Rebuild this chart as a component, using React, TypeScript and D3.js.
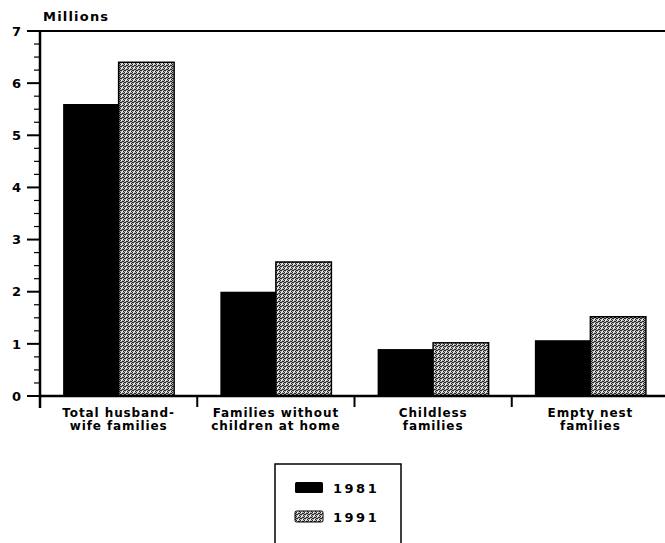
import React, { useEffect, useRef } from 'react';
import * as d3 from 'd3';

const categories = [
  ['Total husband-', 'wife families'],
  ['Families without', 'children at home'],
  ['Childless', 'families'],
  ['Empty nest', 'families'],
];
const seriesNames = ['1981', '1991'];
const values1981 = [5.6, 2.0, 0.9, 1.07];
const values1991 = [6.4, 2.57, 1.02, 1.52];
const yTicks = [0, 1, 2, 3, 4, 5, 6, 7];

const App: React.FC = () => {
  const svgRef = useRef<SVGSVGElement | null>(null);

  useEffect(() => {
    if (!svgRef.current) return;
    document.body.style.margin = '0';

    const width = 665;
    const height = 543;
    const left = 40;
    const top = 31;
    const bottom = 396;
    const font = '"DejaVu Sans", Arial, sans-serif';

    const svg = d3.select(svgRef.current);
    svg.selectAll('*').remove();
    svg.attr('width', width).attr('height', height);

    // stipple texture for 1991
    const defs = svg.append('defs');
    const pat = defs.append('pattern')
      .attr('id', 'stipple')
      .attr('patternUnits', 'userSpaceOnUse')
      .attr('width', 4).attr('height', 4);
    pat.append('rect').attr('width', 4).attr('height', 4).attr('fill', '#b4b4b4');
    [[0, 0], [2, 1], [1, 2], [3, 3], [3, 1], [0, 2]].forEach(([px, py]) => {
      pat.append('rect').attr('x', px).attr('y', py).attr('width', 1).attr('height', 1).attr('fill', '#222');
    });
    [[1, 0], [2, 3]].forEach(([px, py]) => {
      pat.append('rect').attr('x', px).attr('y', py).attr('width', 1).attr('height', 1).attr('fill', '#fff');
    });

    const keys = categories.map((c) => c.join(' '));
    const x0 = d3.scaleBand<string>().domain(keys).range([left, 669]).padding(0);
    const bw = x0.bandwidth();
    const x1 = d3.scaleBand<string>().domain(seriesNames).range([bw * 0.147, bw * 0.853]).padding(0);
    const y = d3.scaleLinear().domain([0, 7]).range([bottom, top]);

    const g = svg.append('g');

    // bars
    const data = keys.map((k, i) => ({ key: k, vals: [values1981[i], values1991[i]] }));
    data.forEach((d) => {
      d.vals.forEach((v, j) => {
        g.append('rect')
          .attr('x', (x0(d.key) ?? 0) + (x1(seriesNames[j]) ?? 0))
          .attr('y', y(v))
          .attr('width', x1.bandwidth())
          .attr('height', y(0) - y(v))
          .attr('fill', j === 0 ? '#000' : 'url(#stipple)')
          .attr('stroke', '#000')
          .attr('stroke-width', j === 0 ? 0 : 1.5);
      });
    });

    // top frame line
    g.append('line')
      .attr('x1', left).attr('x2', width)
      .attr('y1', top).attr('y2', top)
      .attr('stroke', '#000').attr('stroke-width', 2);

    // y axis
    g.append('line')
      .attr('x1', left).attr('x2', left)
      .attr('y1', top).attr('y2', bottom + 12)
      .attr('stroke', '#000').attr('stroke-width', 2.5);

    const minor = d3.range(0, 7, 0.25).filter((t) => t % 1 !== 0);
    minor.forEach((t) => {
      g.append('line')
        .attr('x1', left - 6).attr('x2', left)
        .attr('y1', y(t)).attr('y2', y(t))
        .attr('stroke', '#000').attr('stroke-width', 1.2);
    });
    yTicks.forEach((t) => {
      g.append('line')
        .attr('x1', left - 13).attr('x2', left)
        .attr('y1', y(t)).attr('y2', y(t))
        .attr('stroke', '#000').attr('stroke-width', 2);
      g.append('text')
        .attr('x', 21).attr('y', y(t))
        .attr('dy', '0.36em')
        .attr('text-anchor', 'end')
        .style('font-family', font)
        .style('font-weight', 'bold')
        .style('font-size', '13px')
        .text(t);
    });

    g.append('text')
      .attr('x', 43).attr('y', 21)
      .style('font-family', font)
      .style('font-weight', 'bold')
      .style('font-size', '13px')
      .style('letter-spacing', '1.2px')
      .text('Millions');

    // x axis
    g.append('line')
      .attr('x1', left).attr('x2', width)
      .attr('y1', bottom).attr('y2', bottom)
      .attr('stroke', '#000').attr('stroke-width', 2.5);
    keys.forEach((k, i) => {
      const bx = x0(k) ?? 0;
      if (i > 0) {
        g.append('line')
          .attr('x1', bx).attr('x2', bx)
          .attr('y1', bottom).attr('y2', bottom + 11)
          .attr('stroke', '#000').attr('stroke-width', 2);
      }
      const lbl = g.append('text')
        .attr('text-anchor', 'middle')
        .style('font-family', font)
        .style('font-weight', 'bold')
        .style('font-size', '12px')
        .style('letter-spacing', '0.9px');
      categories[i].forEach((line, li) => {
        lbl.append('tspan')
          .attr('x', bx + bw / 2)
          .attr('y', 417 + li * 13)
          .text(line);
      });
    });

    // legend
    const lg = svg.append('g');
    lg.append('rect')
      .attr('x', 275).attr('y', 464)
      .attr('width', 126).attr('height', 100)
      .attr('fill', 'none').attr('stroke', '#000').attr('stroke-width', 1.5);
    seriesNames.forEach((s, i) => {
      const yy = 482 + i * 29;
      lg.append('rect')
        .attr('x', 295).attr('y', yy)
        .attr('width', 28).attr('height', 11)
        .attr('rx', 1.5)
        .attr('fill', i === 0 ? '#000' : 'url(#stipple)')
        .attr('stroke', '#000').attr('stroke-width', i === 0 ? 0 : 1);
      lg.append('text')
        .attr('x', 333).attr('y', yy + 11)
        .style('font-family', font)
        .style('font-weight', 'bold')
        .style('font-size', '13px')
        .style('letter-spacing', '2.5px')
        .text(s);
    });
  }, []);

  return <svg ref={svgRef} style={{ display: 'block', background: '#fff' }} />;
};

export default App;
